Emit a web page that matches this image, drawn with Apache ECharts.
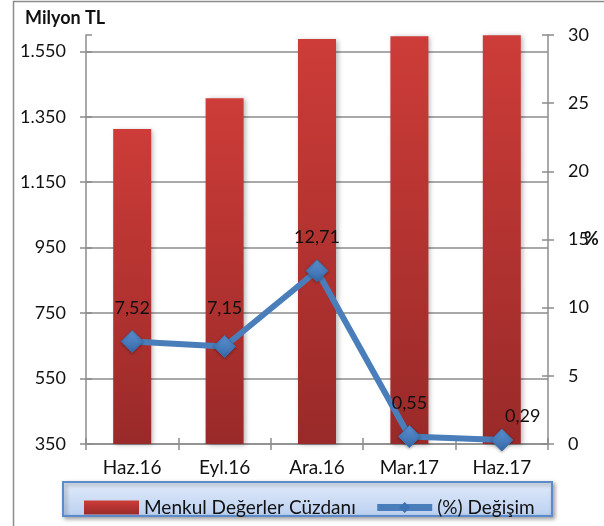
<!DOCTYPE html>
<html>
<head>
<meta charset="utf-8">
<script src="https://cdn.jsdelivr.net/npm/echarts@6/dist/echarts.min.js"></script>
<style>
  html, body { margin: 0; padding: 0; background: #fff; }
  #chart { width: 604px; height: 526px; }
</style>
</head>
<body>
<div id="chart"></div>
<script>
// Quarterly securities portfolio (million TL) and its quarter-on-quarter change (%)
const quarters = ['Haz.16', 'Eyl.16', 'Ara.16', 'Mar.17', 'Haz.17'];
const portfolio = [1313, 1407, 1588, 1596, 1599];
const changePct = [7.52, 7.15, 12.71, 0.55, 0.29];

const leftMin = 350, leftMax = 1600, leftStep = 200;
const rightMin = 0, rightMax = 30, rightStep = 5;

const FONT = 'Lato';
const GRAY = '#8c8c8c';

const thousands = v => String(v).replace(/\B(?=(\d{3})+(?!\d))/g, '.');
const decimalComma = v => v.toFixed(2).replace('.', ',');

// nudges for a couple of value labels so they sit clear of the line
const labelNudge = { 1: [0, -5], 4: [21, 10] };

const chart = echarts.init(document.getElementById('chart'), null, { renderer: 'canvas' });

const axisLineStyle = { color: GRAY, width: 1.5 };

const makeY = (min, max, step, position, inside, main) => ({
  type: 'value',
  min, max, interval: step,
  position,
  axisLine: { show: main, lineStyle: axisLineStyle },
  axisTick: { show: true, inside, length: 6, lineStyle: axisLineStyle },
  axisLabel: main ? {
    show: true, margin: 20, fontFamily: FONT, fontSize: 18, color: '#111',
    formatter: v => thousands(v), showMaxLabel: position === 'right'
  } : { show: false },
  splitLine: { show: false }
});

const leftMain = makeY(leftMin, leftMax, leftStep, 'left', false, true);
leftMain.splitLine = { show: true, showMaxLine: false, lineStyle: { color: GRAY, width: 1.5 } };
leftMain.axisLabel.showMaxLabel = false;

const lineBlue = '#4A7EBB';
const diamondFill = new echarts.graphic.LinearGradient(0, 0, 0, 1, [
  { offset: 0, color: '#5E93D3' },
  { offset: 1, color: '#3467A8' }
]);

chart.setOption({
  backgroundColor: '#fff',
  animation: false,
  grid: { left: 86, right: 56, top: 35, bottom: 82, containLabel: false },
  xAxis: [
    {
      type: 'category', data: quarters, position: 'bottom',
      axisLine: { lineStyle: axisLineStyle },
      axisTick: { show: true, length: 6, lineStyle: axisLineStyle },
      axisLabel: { margin: 14, fontFamily: FONT, fontSize: 19, color: '#111' }
    },
    {
      type: 'category', data: quarters, position: 'bottom',
      axisLine: { show: false },
      axisTick: { show: true, inside: true, length: 6, lineStyle: axisLineStyle },
      axisLabel: { show: false }
    }
  ],
  yAxis: [
    leftMain,
    makeY(rightMin, rightMax, rightStep, 'right', false, true),
    makeY(leftMin, leftMax, leftStep, 'left', true, false),
    makeY(rightMin, rightMax, rightStep, 'right', true, false)
  ],
  legend: {
    left: 79, top: 493,
    itemWidth: 55, itemHeight: 14, itemGap: 18,
    textStyle: { fontFamily: FONT, fontSize: 19, color: '#111' },
    data: [
      { name: 'Menkul Değerler Cüzdanı', icon: 'rect' },
      {
        name: '(%) Değişim',
        lineStyle: { color: lineBlue, width: 7 },
        itemStyle: { color: '#3F72B2', borderWidth: 0 }
      }
    ]
  },
  graphic: [
    {
      type: 'rect', z: -10, silent: true,
      shape: { x: 13.5, y: 1.5, width: 700, height: 600 },
      style: { fill: 'none', stroke: GRAY, lineWidth: 1.5 }
    },
    {
      type: 'rect', z: -5, silent: true,
      shape: { x: 63, y: 482, width: 489, height: 34 },
      style: {
        fill: new echarts.graphic.LinearGradient(0, 0, 0, 1, [
          { offset: 0, color: '#E3ECFA' },
          { offset: 1, color: '#B9CFF0' }
        ]),
        stroke: '#5B8BCB', lineWidth: 2,
        shadowBlur: 4, shadowOffsetX: 2, shadowOffsetY: 2, shadowColor: 'rgba(0,0,0,0.35)'
      }
    },
    {
      type: 'text', left: 25, top: 9,
      style: { text: 'Milyon TL', fontFamily: FONT, fontSize: 18, fontWeight: 'bold', fill: '#111' }
    },
    {
      type: 'text', left: 584, top: 230,
      style: { text: '%', fontFamily: FONT, fontSize: 18, fontWeight: 'bold', fill: '#111' }
    }
  ],
  series: [
    {
      name: 'Menkul Değerler Cüzdanı',
      type: 'bar',
      xAxisIndex: 0, yAxisIndex: 0,
      barWidth: 38,
      data: portfolio,
      itemStyle: {
        color: new echarts.graphic.LinearGradient(0, 0, 0, 1, [
          { offset: 0, color: '#CD3C38' },
          { offset: 1, color: '#992A29' }
        ]),
        shadowBlur: 5, shadowOffsetX: 2, shadowOffsetY: 1, shadowColor: 'rgba(0,0,0,0.3)'
      },
      z: 2
    },
    {
      name: '(%) Değişim',
      type: 'line',
      xAxisIndex: 0, yAxisIndex: 1,
      symbol: 'diamond', symbolSize: 22,
      lineStyle: { color: lineBlue, width: 6 },
      itemStyle: {
        color: diamondFill,
        borderColor: '#3F72B2', borderWidth: 1,
        shadowBlur: 3, shadowOffsetY: 1, shadowColor: 'rgba(0,0,0,0.3)'
      },
      label: {
        show: true, position: 'top', distance: 13,
        fontFamily: FONT, fontSize: 18, color: '#111',
        formatter: p => decimalComma(p.value)
      },
      data: changePct.map((v, i) => labelNudge[i]
        ? { value: v, label: { offset: labelNudge[i] } }
        : v),
      z: 5
    }
  ]
});
</script>
</body>
</html>
